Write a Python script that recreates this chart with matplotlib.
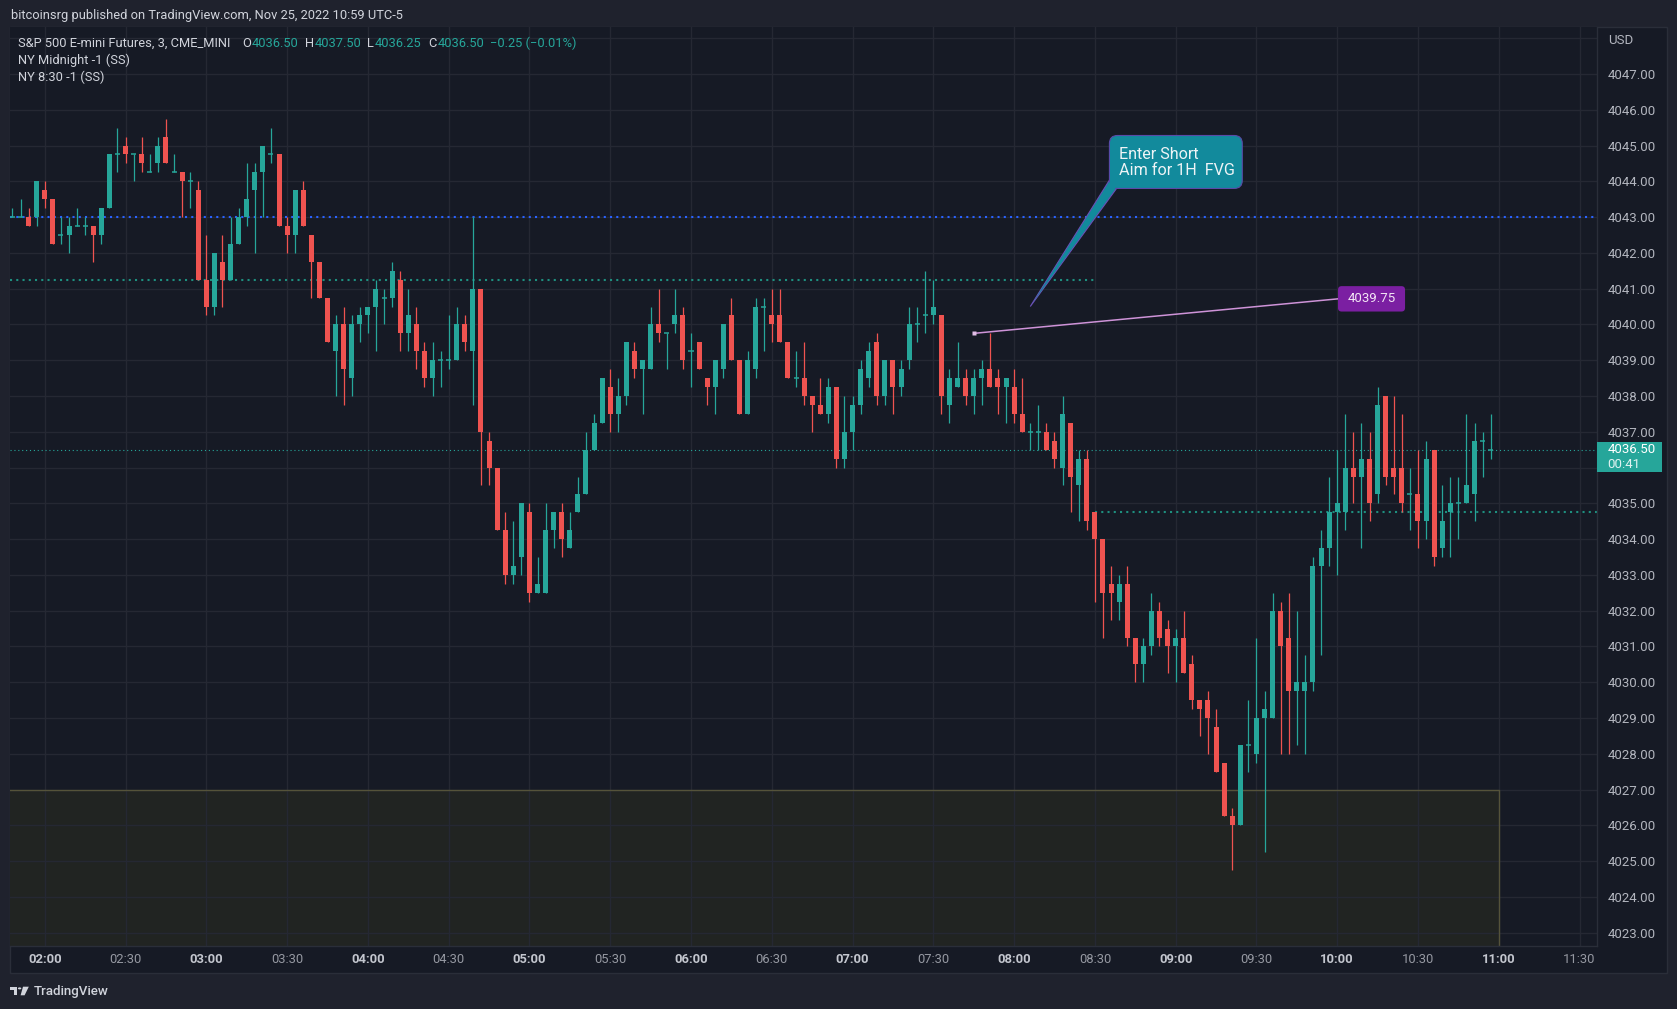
import numpy as np
import matplotlib
matplotlib.use('Agg')
import matplotlib.pyplot as plt
import matplotlib.transforms as mtransforms
from matplotlib.patches import Rectangle, FancyBboxPatch, Polygon, Circle

W, H = 1677, 1009
BG = '#161a25'
FRAME = '#1f222d'
GRID = '#252833'
BORDER = '#2a2e39'
UP = '#26a69a'
DOWN = '#ef5350'
TEXT = '#d1d4dc'
AXIS_TEXT = '#b2b5be'

plt.rcParams['font.family'] = ['Roboto', 'DejaVu Sans']

# ---- data: 3 minute bars of ES, starting 01:48 ----
start_time = '01:48'
bar_minutes = 3

opens = [4043, 4043, 4043, 4043, 4043.75, 4043.5, 4042.5, 4042.5, 4042.75, 4042.75,
         4042.75, 4042.5, 4043.25, 4044.75, 4045, 4044.75, 4044.75, 4044.25, 4044.5, 4045.25,
         4044.25, 4044.25, 4044, 4043.75, 4041.25, 4040.5, 4041.75, 4041.25, 4042.25, 4043,
         4043.75, 4044.25, 4044.75, 4044.75, 4042.75, 4042.5, 4043.75, 4042.5, 4041.75, 4040.75,
         4039.25, 4040, 4038.5, 4040, 4040.25, 4040.5, 4040.75, 4040.75, 4041.25, 4039.75,
         4040, 4039.25, 4038.5, 4039, 4039, 4039, 4040, 4039.25, 4041, 4036.75,
         4036, 4034.25, 4033, 4033.5, 4034.75, 4032.5, 4032.5, 4034.25, 4034.75, 4033.75,
         4034.75, 4035.25, 4036.5, 4037.25, 4038.25, 4037.5, 4038, 4039.25, 4038.75, 4038.75,
         4040, 4039.75, 4040, 4040.25, 4039.25, 4039.5, 4038.5, 4038.25, 4038.75, 4040.25,
         4039, 4037.5, 4038.75, 4040.5, 4040.25, 4040.25, 4039.5, 4038.5, 4038.5, 4038,
         4037.75, 4037.5, 4038.25, 4036.25, 4037, 4037.75, 4038.5, 4039.5, 4038, 4039,
         4038.25, 4039, 4040, 4040.25, 4040.25, 4040.25, 4037.75, 4038.25, 4038.5, 4038,
         4038.5, 4038.75, 4038.5, 4038.25, 4038.25, 4037.5, 4037, 4037, 4037, 4036.75,
         4036, 4037.25, 4035.5, 4036.25, 4034.75, 4034, 4032.75, 4032.25, 4032.75, 4031.25,
         4030.5, 4031, 4032, 4031.5, 4031, 4031.25, 4030.5, 4029.5, 4029.5, 4028.75,
         4027.75, 4026.25, 4026, 4028.25, 4028, 4029, 4029, 4032, 4031.25, 4029.75,
         4029.75, 4030, 4033.25, 4033.75, 4034.75, 4034.75, 4036, 4035.75, 4036.25, 4035.25,
         4038, 4036, 4036, 4035.25, 4035.25, 4034.5, 4036.5, 4033.75, 4034.75, 4035,
         4035, 4035.25, 4036.75, 4036.5]
highs = [4043.25, 4043.5, 4043.25, 4044, 4044, 4043.5, 4043, 4043, 4043.25, 4043,
         4042.75, 4043.25, 4044.75, 4045.5, 4045.25, 4044.75, 4045.25, 4044.75, 4045.25, 4045.75,
         4044.75, 4044.25, 4044.25, 4044, 4042.5, 4042, 4042.5, 4043, 4043.25, 4044.5,
         4044.5, 4045, 4045.5, 4044.75, 4043, 4043.75, 4044, 4042.5, 4041.75, 4040.75,
         4040.25, 4040.5, 4040.25, 4040.5, 4040.5, 4041.25, 4041, 4041.75, 4041.5, 4041,
         4040.5, 4039.5, 4039.5, 4039.25, 4040.25, 4040.5, 4040.25, 4043, 4041, 4037,
         4036, 4034.75, 4034.5, 4035, 4035, 4033.5, 4035, 4034.75, 4035, 4034.75,
         4035.75, 4037, 4037.5, 4038.5, 4038.75, 4038.5, 4039.5, 4039.5, 4039, 4040.5,
         4041, 4039.75, 4041, 4040.5, 4039.75, 4039.5, 4038.5, 4039, 4040, 4040.75,
         4039, 4039.25, 4040.75, 4040.75, 4041, 4041, 4039.5, 4039.25, 4039.5, 4038,
         4038.5, 4038.5, 4038.25, 4038, 4038, 4039, 4039.5, 4039.75, 4039, 4039,
         4039, 4040.5, 4040.5, 4041.5, 4041.25, 4040.25, 4038.75, 4039.5, 4038.75, 4038.75,
         4039, 4039.75, 4038.75, 4038.5, 4038.75, 4038.5, 4037.25, 4037.75, 4037.25, 4037,
         4038, 4037.25, 4036.5, 4036.5, 4034.75, 4034, 4033.25, 4033, 4033.25, 4031.25,
         4031.25, 4032.5, 4032.25, 4031.75, 4031.5, 4032, 4030.75, 4029.5, 4029.75, 4029.25,
         4027.75, 4026.5, 4028.25, 4029.5, 4031.25, 4029.75, 4032.5, 4032.25, 4032.5, 4032,
         4030.75, 4033.5, 4034.25, 4035.75, 4036.5, 4037.5, 4037, 4037.25, 4037, 4038.25,
         4038, 4038, 4037.5, 4036, 4036.5, 4036.75, 4036.5, 4035.5, 4035.75, 4035.75,
         4037.5, 4037.25, 4037, 4037.5]
lows = [4043, 4043, 4042.75, 4042.75, 4043.25, 4042.25, 4042.25, 4042, 4042.75, 4042.5,
        4041.75, 4042.25, 4043.25, 4044.25, 4044.5, 4044, 4044.25, 4044.25, 4044.25, 4044.5,
        4044.25, 4043, 4043.25, 4041.25, 4040.25, 4040.25, 4040.5, 4041.25, 4042.25, 4042.75,
        4042, 4043, 4044.5, 4042.75, 4042, 4042, 4042.75, 4040.75, 4040.75, 4039.5,
        4038, 4037.75, 4038, 4039.5, 4039.75, 4039.25, 4040, 4040.5, 4039.25, 4039.25,
        4038.75, 4038.25, 4038, 4038.25, 4038.75, 4039, 4039.25, 4037.75, 4035.5, 4035.5,
        4034.25, 4032.75, 4032.75, 4033, 4032.25, 4032.5, 4032.5, 4033.75, 4033.5, 4033.75,
        4034.75, 4035.25, 4036.5, 4037.25, 4037, 4037, 4037.75, 4038.5, 4037.5, 4038.75,
        4039.5, 4038.75, 4039.75, 4038.75, 4038.25, 4038.75, 4037.75, 4037.5, 4038.5, 4039,
        4037.5, 4037.5, 4038.5, 4039.25, 4039.5, 4039.5, 4038.5, 4038.25, 4037.75, 4037,
        4037.5, 4037.25, 4036, 4036, 4036.5, 4037.5, 4038.25, 4037.75, 4037.75, 4037.5,
        4038, 4038.75, 4039.5, 4039.75, 4040, 4037.5, 4037.25, 4038.25, 4037.75, 4037.5,
        4037.75, 4038.25, 4037.5, 4037.25, 4037.25, 4037, 4036.5, 4036.5, 4036.5, 4036,
        4035.5, 4034.75, 4034.5, 4034.25, 4032.25, 4031.25, 4031.75, 4031.75, 4031, 4030,
        4030, 4030.75, 4031, 4030.25, 4030, 4030.25, 4029.25, 4028.5, 4028, 4027.5,
        4026.25, 4024.75, 4026, 4027.5, 4027.75, 4025.25, 4029, 4028, 4028, 4028.25,
        4028, 4029.75, 4030.75, 4033.25, 4033, 4034.25, 4035, 4033.75, 4034.5, 4035,
        4035.5, 4035.25, 4034.75, 4034.25, 4033.75, 4034, 4033.25, 4033.5, 4033.5, 4034,
        4035, 4034.5, 4035.75, 4036.25]
closes = [4043, 4043, 4042.75, 4044, 4043.5, 4042.25, 4042.5, 4042.75, 4042.75, 4042.75,
          4042.5, 4043.25, 4044.75, 4044.75, 4044.75, 4044.75, 4044.5, 4044.25, 4045, 4044.5,
          4044.25, 4044, 4044, 4041.25, 4040.5, 4042, 4041.25, 4042.25, 4043, 4043.5,
          4044.25, 4045, 4044.75, 4042.75, 4042.5, 4043.75, 4042.75, 4041.75, 4040.75, 4039.5,
          4040, 4038.75, 4040, 4040.25, 4040.5, 4041, 4040.75, 4041.5, 4039.75, 4040.25,
          4039.25, 4038.5, 4039, 4039, 4039, 4040, 4039.5, 4041, 4037, 4036,
          4034.25, 4033, 4033.25, 4035, 4032.5, 4032.75, 4034.25, 4034.75, 4034, 4034.25,
          4035.25, 4036.5, 4037.25, 4038.5, 4037.5, 4038, 4039.5, 4038.75, 4039, 4040,
          4039.75, 4039.75, 4040.25, 4039, 4039.25, 4038.75, 4038.25, 4039, 4040, 4039,
          4037.5, 4039, 4040.5, 4040.5, 4040, 4039.5, 4038.5, 4038.5, 4038, 4037.75,
          4037.5, 4038.25, 4036.25, 4037, 4037.75, 4038.75, 4039.25, 4038, 4039, 4038.25,
          4038.75, 4040, 4040, 4040.25, 4040.5, 4038, 4038.5, 4038.5, 4038, 4038.5,
          4038.75, 4038.25, 4038.25, 4038.5, 4037.5, 4037, 4037, 4037, 4036.5, 4036.25,
          4037.5, 4035.75, 4036.25, 4034.5, 4034, 4032.5, 4032.5, 4032.75, 4031.25, 4030.5,
          4031, 4032, 4031.25, 4031, 4031.25, 4030.25, 4029.5, 4029.25, 4029, 4027.5,
          4026.25, 4026, 4028.25, 4028.25, 4029, 4029.25, 4032, 4031, 4029.75, 4030,
          4030, 4033.25, 4033.75, 4034.75, 4035, 4036, 4035.75, 4036.25, 4035, 4037.75,
          4035.75, 4035.75, 4035, 4035.25, 4034.5, 4036.25, 4033.5, 4034.5, 4035, 4035,
          4035.5, 4036.75, 4036.75, 4036.5]

tick_labels = ['02:00', '02:30', '03:00', '03:30', '04:00', '04:30', '05:00', '05:30',
               '06:00', '06:30', '07:00', '07:30', '08:00', '08:30', '09:00', '09:30',
               '10:00', '10:30', '11:00', '11:30']
price_ticks = list(range(4023, 4049))

blue_level = 4043.00          # horizontal ray
ny_midnight_open = 4041.25    # until 08:30
ny_830_open = 4034.75         # from 08:30
session_switch = '08:30'
last_price = 4036.50
countdown = '00:41'
zone_top = 4027.00
zone_end = '11:00'
label_point = ('07:45', 4039.75)
label_text = '4039.75'
callout_text = ['Enter Short', 'Aim for 1H  FVG']
callout_tip = ('08:06', 4040.5)


def to_min(t):
    hh, mm = t.split(':')
    return int(hh) * 60 + int(mm)


def bar_pos(t):
    return (to_min(t) - to_min(start_time)) / bar_minutes


def fx(x):
    return x / W


def fy(y):
    return 1 - y / H


fig = plt.figure(figsize=(W / 100, H / 100), dpi=100, facecolor=FRAME)

# chart panel background (plot + price axis + time axis)
fig.patches.append(Rectangle((fx(10.3), fy(973.3)), (1666.7 - 10.3) / W, (973.3 - 26.7) / H,
                             transform=fig.transFigure, fc=BG, ec=BORDER, lw=1, zorder=-5))

ax_l, ax_r, ax_t, ax_b = 10.3, 1597.3, 26.7, 946.0
ax = fig.add_axes([fx(ax_l), fy(ax_b), (ax_r - ax_l) / W, (ax_b - ax_t) / H])
ax.set_facecolor(BG)

xmin, xmax = -0.27, 196.2
ymin, ymax = 4022.63, 4048.32
ax.set_xlim(xmin, xmax)
ax.set_ylim(ymin, ymax)

o = np.array(opens)
h = np.array(highs)
l = np.array(lows)
c = np.array(closes)
x = np.arange(len(o))

# grid and axes
ax.set_axisbelow(True)
ax.set_xticks([bar_pos(t) for t in tick_labels])
ax.set_xticklabels(tick_labels)
ax.set_yticks(price_ticks)
# 4048 slot is taken by the currency, 4036 is hidden under the last price tag
ax.set_yticklabels(['' if p in (4048, 4036) else '%.2f' % p for p in price_ticks])
ax.grid(True, color=GRID, lw=1.0)
ax.yaxis.tick_right()
ax.tick_params(axis='y', length=0, pad=7.5, labelcolor=AXIS_TEXT, labelsize=9.5)
ax.tick_params(axis='x', length=0, pad=5, labelsize=9.4)
for lab in ax.get_xticklabels():
    if lab.get_text().endswith(':00'):
        lab.set_fontweight('bold')
        lab.set_color('#c3c6ce')
    else:
        lab.set_color('#9598a1')
for side in ['top', 'left']:
    ax.spines[side].set_visible(False)
for side in ['bottom', 'right']:
    ax.spines[side].set_color(BORDER)
    ax.spines[side].set_linewidth(1)

# demand zone box
zx = bar_pos(zone_end)
ax.add_patch(Rectangle((xmin - 1, ymin - 1), zx - xmin + 1, zone_top - ymin + 1,
                       fc='#212422', ec='none', zorder=0.3))
ax.plot([xmin - 1, zx, zx], [zone_top, zone_top, ymin - 1], color='#55533a', lw=1, zorder=0.6)

# levels
ax.axhline(blue_level, color='#2962ff', lw=1.5, ls=(0, (1, 2)), zorder=2)
sw = bar_pos(session_switch)
ax.plot([xmin, sw], [ny_midnight_open] * 2, color='#1e8f7f', lw=1.5, ls=(0, (1, 2)), zorder=2)
ax.plot([sw, xmax], [ny_830_open] * 2, color='#1e8f7f', lw=1.5, ls=(0, (1, 2)), zorder=2)
ax.axhline(last_price, color=UP, lw=0.8, ls=(0, (1, 2.5)), zorder=2)

# candles
up = c >= o
colors = np.where(up, UP, DOWN)
ax.vlines(x, l, h, colors=colors, lw=0.9, zorder=3)
body = np.abs(c - o)
ax.bar(x, body, bottom=np.minimum(o, c), width=0.62, color=colors, lw=0, zorder=4)
doji = body == 0
ax.hlines(o[doji], x[doji] - 0.31, x[doji] + 0.31, colors=colors[doji], lw=1.1, zorder=4)

# pixel scale of the data axes
ux = (ax_r - ax_l) / (xmax - xmin)
uy = (ax_b - ax_t) / (ymax - ymin)
asp = ux / uy

# price label with connector
lx, lp = bar_pos(label_point[0]), label_point[1]
bx0, bx1 = lx + 45.1, lx + 53.4
by0, by1 = lp + 0.61, lp + 1.32
ax.plot([lx, bx0], [lp, (by0 + by1) / 2], color='#ce93d8', lw=1.1, zorder=5)
ax.plot([lx], [lp], marker='s', ms=3.5, color='#e1bee7', mec='none', zorder=6)
ax.add_patch(FancyBboxPatch((bx0, by0), bx1 - bx0, by1 - by0,
                            boxstyle='round,pad=0,rounding_size=0.45', mutation_aspect=asp,
                            fc='#7b1fa2', ec='none', zorder=6))
ax.text((bx0 + bx1) / 2, (by0 + by1) / 2, label_text, color='#f3e5f5', fontsize=9.5,
        ha='center', va='center', zorder=7)

# callout
tx, tp = bar_pos(callout_tip[0]), callout_tip[1]
cb_x0, cb_x1 = tx + 9.8, tx + 26.25
cb_y1, cb_y0 = tp + 4.78, tp + 3.30
callout_col = '#128a9c'
ax.add_patch(Polygon([(cb_x0 + 0.05, cb_y0 + 0.25), (cb_x0 + 0.95, cb_y0 + 0.02), (tx, tp)],
                     closed=True, fc=callout_col, ec='#6a4fb5', lw=0.8, zorder=6))
ax.add_patch(FancyBboxPatch((cb_x0, cb_y0), cb_x1 - cb_x0, cb_y1 - cb_y0,
                            boxstyle='round,pad=0,rounding_size=1.0', mutation_aspect=asp,
                            fc=callout_col, ec='#5a4aa8', lw=0.8, zorder=6))
ax.add_patch(Polygon([(cb_x0 + 0.15, cb_y0 + 0.22), (cb_x0 + 0.9, cb_y0 + 0.06), (tx + 0.3, tp + 0.1)],
                     closed=True, fc=callout_col, ec='none', zorder=7))
for k, line in enumerate(callout_text):
    ax.annotate(line, xy=(cb_x0, cb_y1), xytext=(10, -24 - 15.7 * k), textcoords='offset pixels',
                color='#eef4f6', fontsize=11.6, ha='left', va='baseline', zorder=8)

# last price tag on price axis
blend = mtransforms.blended_transform_factory(ax.transAxes, ax.transData)
ax.add_patch(Rectangle((1.0, last_price - 0.63), 64.4 / (ax_r - ax_l), 0.84, transform=blend,
                       fc=UP, ec='none', clip_on=False, zorder=8))
ax.text(1.0 + 10.4 / (ax_r - ax_l), last_price, '%.2f' % last_price, transform=blend,
        color='white', fontsize=9.5, ha='left', va='center', clip_on=False, zorder=9)
ax.annotate(countdown, xy=(1.0 + 10.4 / (ax_r - ax_l), last_price), xycoords=blend,
            xytext=(0, -14.7), textcoords='offset pixels', color='#e0f2f1', fontsize=9.5,
            ha='left', va='center', annotation_clip=False, zorder=9)

fig.text(fx(1607.7), fy(40.7), 'USD', color=AXIS_TEXT, fontsize=9.5, ha='left', va='center')

# header and legend
fs = 9.3
fig.text(fx(10.7), fy(15.7), 'bitcoinsrg published on TradingView.com, Nov 25, 2022 10:59 UTC-5',
         color=TEXT, fontsize=fs, ha='left', va='center')
legend_pieces = [
    (18.4, 'S&P 500 E-mini Futures, 3, CME_MINI', TEXT),
    (241.9, 'O', TEXT), (251.5, '4036.50', UP),
    (305.0, 'H', TEXT), (314.5, '4037.50', UP),
    (366.6, 'L', TEXT), (374.5, '4036.25', UP),
    (428.6, 'C', TEXT), (437.5, '4036.50', UP),
    (489.9, '\u22120.25 (\u22120.01%)', UP),
]
for px, s, col in legend_pieces:
    fig.text(fx(px), fy(43.3), s, color=col, fontsize=fs, ha='left', va='center')
fig.text(fx(18.4), fy(60.0), 'NY Midnight -1 (SS)', color=TEXT, fontsize=fs, ha='left', va='center')
fig.text(fx(18.4), fy(77.0), 'NY 8:30 -1 (SS)', color=TEXT, fontsize=fs, ha='left', va='center')

# footer logo
logo = '#d1d4dc'
fig.patches.append(Polygon([(fx(9.6), fy(986.7)), (fx(17.0), fy(986.7)), (fx(17.0), fy(995.3)),
                            (fx(13.6), fy(995.3)), (fx(13.6), fy(990.0)), (fx(9.6), fy(990.0))],
                           closed=True, transform=fig.transFigure, fc=logo, ec='none'))
fig.patches.append(Circle((fx(19.6), fy(988.4)), 1.7 / W, transform=fig.transFigure, fc=logo, ec='none'))
fig.patches.append(Polygon([(fx(23.0), fy(986.7)), (fx(28.8), fy(986.7)), (fx(24.6), fy(995.3)),
                            (fx(20.6), fy(995.3))],
                           closed=True, transform=fig.transFigure, fc=logo, ec='none'))
fig.text(fx(33.7), fy(992.0), 'TradingView', color=logo, fontsize=9.6, ha='left', va='center',
         fontweight='medium')

fig.savefig('out.png', dpi=100, facecolor=FRAME)
